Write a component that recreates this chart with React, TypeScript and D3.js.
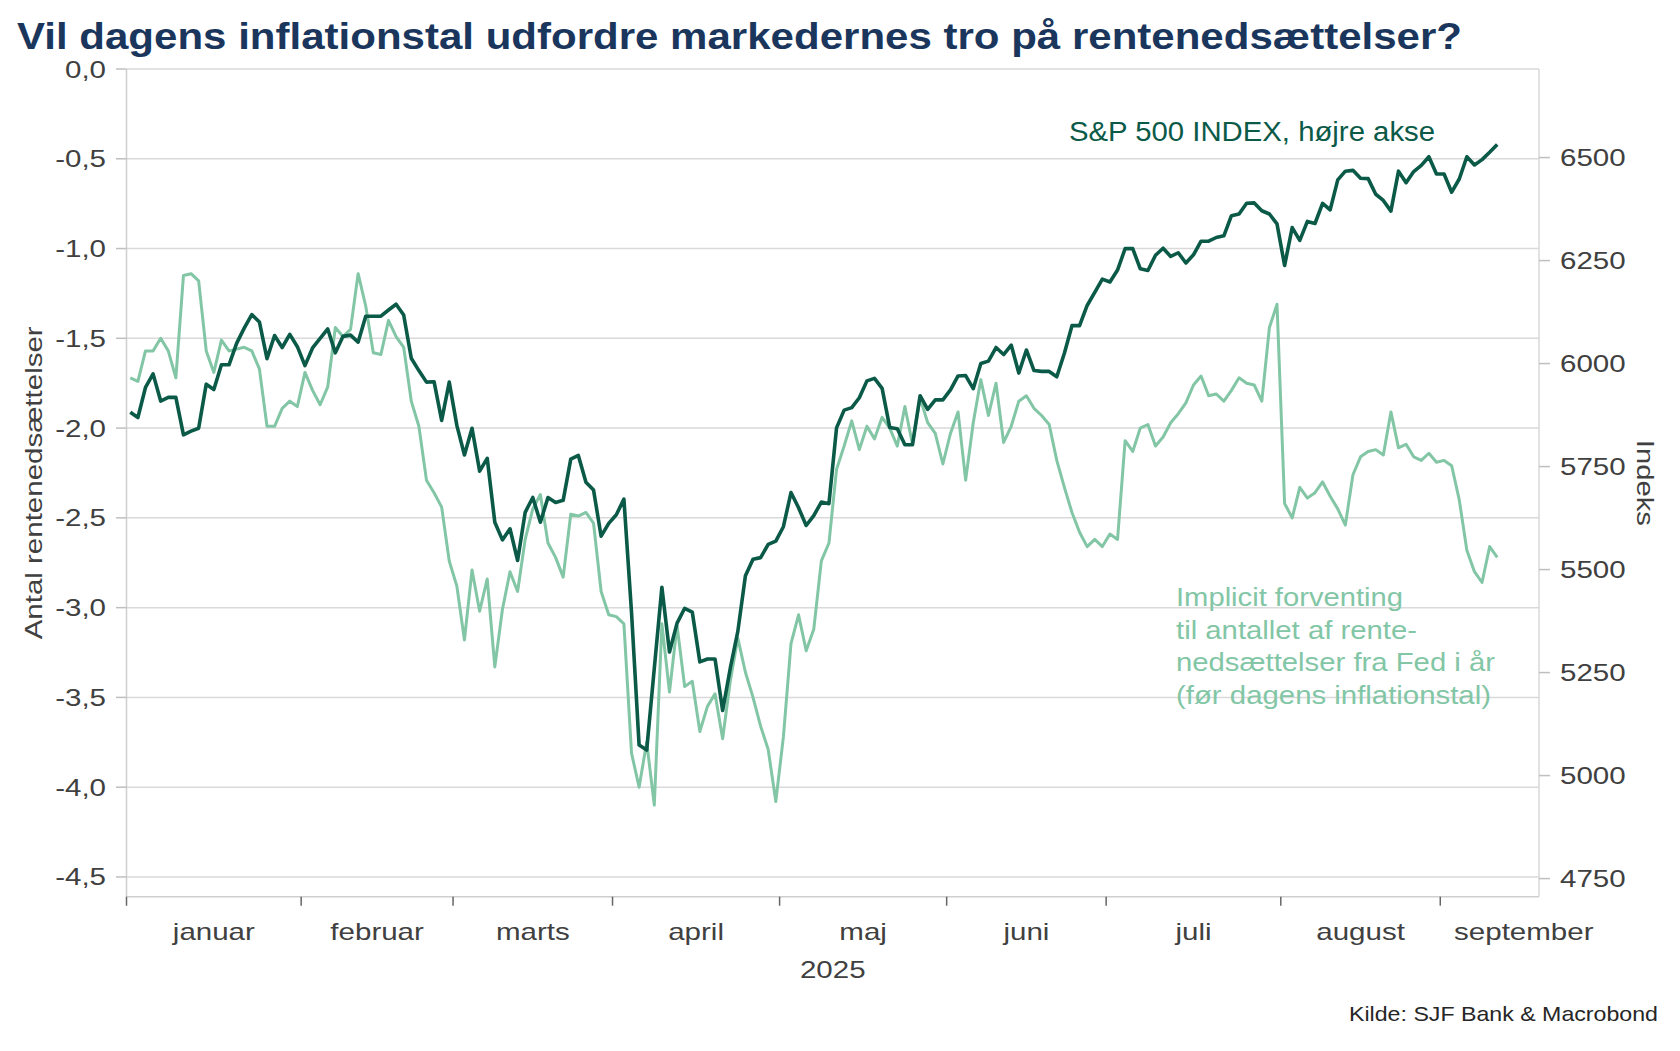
import React from 'react';
import * as d3 from 'd3';

// month labels on the x axis (weekday calendar, Macrobond style)
const months = ['januar', 'februar', 'marts', 'april', 'maj', 'juni', 'juli', 'august', 'september'];

// S&P 500, one value per weekday (holidays carry the previous close)
const spxJan = [5882, 5869, 5942, 5975, 5909, 5918, 5918, 5827, 5836, 5843, 5950, 5937, 5997, 5997, 6049, 6086, 6119, 6101, 6012, 6068, 6039, 6071, 6041];
const spxFeb = [5995, 6038, 6061, 6084, 6026, 6066, 6069, 6052, 6115, 6115, 6115, 6130, 6144, 6118, 6013, 5983, 5955, 5956, 5862, 5955];
const spxMar = [5850, 5778, 5843, 5739, 5770, 5615, 5572, 5599, 5522, 5639, 5675, 5615, 5675, 5663, 5668, 5768, 5777, 5712, 5693, 5581, 5612];
const spxApr = [5633, 5671, 5397, 5074, 5062, 5260, 5457, 5300, 5370, 5406, 5397, 5276, 5283, 5283, 5158, 5260, 5350, 5485, 5525, 5529, 5561, 5569];
const spxMay = [5604, 5687, 5650, 5607, 5631, 5664, 5660, 5844, 5887, 5893, 5917, 5958, 5964, 5940, 5845, 5842, 5803, 5803, 5922, 5889, 5912, 5912];
const spxJun = [5936, 5970, 5971, 5939, 6000, 6006, 6039, 6022, 6045, 5977, 6033, 5983, 5981, 5981, 5968, 6025, 6092, 6092, 6141, 6173, 6205];
const spxJul = [6198, 6227, 6279, 6279, 6230, 6226, 6263, 6280, 6260, 6269, 6244, 6264, 6297, 6297, 6306, 6310, 6359, 6363, 6389, 6390, 6371, 6363, 6339];
const spxAug = [6238, 6330, 6299, 6345, 6340, 6389, 6373, 6446, 6467, 6469, 6450, 6449, 6411, 6396, 6370, 6467, 6439, 6466, 6481, 6502, 6460];
const spxSep = [6460, 6416, 6448, 6502, 6482, 6495, 6513, 6532];

// implied number of Fed cuts this year (left axis), one value per weekday
const cutsJan = [-1.72, -1.74, -1.57, -1.57, -1.5, -1.57, -1.72, -1.15, -1.14, -1.18, -1.57, -1.69, -1.51, -1.57, -1.56, -1.55, -1.57, -1.67, -1.99, -1.99, -1.89, -1.85, -1.88];
const cutsFeb = [-1.69, -1.79, -1.87, -1.77, -1.44, -1.49, -1.45, -1.14, -1.32, -1.58, -1.59, -1.4, -1.49, -1.55, -1.85, -1.99, -2.29, -2.36, -2.44, -2.74];
const cutsMar = [-2.88, -3.18, -2.79, -3.02, -2.84, -3.33, -3.01, -2.8, -2.91, -2.62, -2.45, -2.37, -2.64, -2.72, -2.83, -2.48, -2.49, -2.47, -2.53, -2.91, -3.04];
const cutsApr = [-3.05, -3.09, -3.81, -4.0, -3.75, -4.1, -3.09, -3.47, -3.1, -3.44, -3.41, -3.69, -3.55, -3.48, -3.73, -3.41, -3.17, -3.36, -3.5, -3.66, -3.79, -4.08];
const cutsMay = [-3.72, -3.2, -3.04, -3.24, -3.12, -2.74, -2.64, -2.23, -2.1, -1.96, -2.12, -1.99, -2.06, -1.94, -2.0, -2.1, -1.88, -2.09, -1.83, -1.97, -2.03, -2.2];
const cutsJun = [-2.03, -1.91, -2.29, -1.97, -1.73, -1.93, -1.75, -2.08, -1.99, -1.85, -1.82, -1.89, -1.93, -1.98, -2.18, -2.33, -2.47, -2.58, -2.66, -2.62, -2.66];
const cutsJul = [-2.59, -2.62, -2.07, -2.13, -2.0, -1.98, -2.1, -2.05, -1.97, -1.92, -1.86, -1.76, -1.71, -1.82, -1.81, -1.85, -1.79, -1.72, -1.75, -1.76, -1.85, -1.44, -1.31];
const cutsAug = [-2.42, -2.5, -2.33, -2.39, -2.36, -2.3, -2.38, -2.45, -2.54, -2.26, -2.16, -2.13, -2.12, -2.15, -1.91, -2.11, -2.09, -2.16, -2.18, -2.14, -2.19];
const cutsSep = [-2.18, -2.21, -2.4, -2.68, -2.8, -2.86, -2.66, -2.72];

const leftTicks = [0, -0.5, -1, -1.5, -2, -2.5, -3, -3.5, -4, -4.5];
const rightTicks = [6500, 6250, 6000, 5750, 5500, 5250, 5000, 4750];

const spx = [...spxJan, ...spxFeb, ...spxMar, ...spxApr, ...spxMay, ...spxJun, ...spxJul, ...spxAug, ...spxSep];
const cuts = [...cutsJan, ...cutsFeb, ...cutsMar, ...cutsApr, ...cutsMay, ...cutsJun, ...cutsJul, ...cutsAug, ...cutsSep];

const FONT = '"Liberation Sans", Arial, sans-serif';
const DARK = '#0b5a48';
const LIGHT = '#82c6a6';
const GRID = '#d9d9d9';
const TXT = '#404040';

const W = 1680;
const H = 1051;
const plot = { left: 126.5, right: 1539, top: 69, bottom: 896.7 };

// weekdays of 2025 up to end of September
const calendar = d3.timeDay
  .range(new Date(2025, 0, 1), new Date(2025, 9, 1))
  .filter(d => d.getDay() !== 0 && d.getDay() !== 6);

const monthStart = months.map((_, i) => calendar.findIndex(d => d.getMonth() === i));
const monthEnd = monthStart.map((s, i) => (i < monthStart.length - 1 ? monthStart[i + 1] : calendar.length));

const x = d3.scaleLinear().domain([0, 186]).range([plot.left, plot.right]);
const yL = d3.scaleLinear().domain([-4.61, 0]).range([plot.bottom, plot.top]);
const yR = d3.scaleLinear().domain([4706, 6715]).range([plot.bottom, plot.top]);

const cutsLine = d3.line<number>().x((_, i) => x(i + 0.5)).y(d => yL(d));
const spxLine = d3.line<number>().x((_, i) => x(i + 0.5)).y(d => yR(d));

const fmtLeft = (v: number) => v.toFixed(1).replace('.', ',');

// tick labels are drawn a bit wider than plain Arial
const Lbl = ({ x, y, anchor, children }: any) => (
  <text
    transform={`translate(${x},${y}) scale(1.23,1)`}
    textAnchor={anchor}
    fontSize={24}
    fill={TXT}
  >
    {children}
  </text>
);

export default function App() {
  return (
    <>
      <style>{'body{margin:0}'}</style>
      <svg width={W} height={H} style={{ display: 'block', background: '#fff' }} fontFamily={FONT}>
        <text x={17} y={49} fontSize={37} fontWeight="bold" fill="#1b365d" textLength={1445} lengthAdjust="spacingAndGlyphs">
          Vil dagens inflationstal udfordre markedernes tro på rentenedsættelser?
        </text>

        {/* grid */}
        {leftTicks.map(t => (
          <line key={'g' + t} x1={plot.left} x2={plot.right} y1={yL(t)} y2={yL(t)} stroke={GRID} strokeWidth={1.5} />
        ))}
        <line x1={plot.left} x2={plot.left} y1={plot.top} y2={plot.bottom} stroke="#cfcfcf" strokeWidth={1.5} />
        <line x1={plot.right} x2={plot.right} y1={plot.top} y2={plot.bottom} stroke={GRID} strokeWidth={1.5} />
        <line x1={plot.left} x2={plot.right} y1={plot.bottom} y2={plot.bottom} stroke="#cfcfcf" strokeWidth={1.5} />

        {/* left axis */}
        {leftTicks.map(t => (
          <g key={'l' + t}>
            <line x1={plot.left - 10.5} x2={plot.left} y1={yL(t)} y2={yL(t)} stroke="#bfbfbf" strokeWidth={1.5} />
            <Lbl x={106} y={yL(t) + 8.5} anchor="end">{fmtLeft(t)}</Lbl>
          </g>
        ))}

        {/* right axis */}
        {rightTicks.map(t => (
          <g key={'r' + t}>
            <line x1={plot.right} x2={plot.right + 11} y1={yR(t)} y2={yR(t)} stroke="#bfbfbf" strokeWidth={1.5} />
            <Lbl x={1560} y={yR(t) + 8.5} anchor="start">{t}</Lbl>
          </g>
        ))}

        {/* x axis */}
        {monthStart.map((s, i) => (
          <g key={months[i]}>
            <line x1={x(s)} x2={x(s)} y1={plot.bottom} y2={plot.bottom + 9} stroke="#666" strokeWidth={1.5} />
            <Lbl x={x((s + monthEnd[i]) / 2)} y={940} anchor="middle">{months[i]}</Lbl>
          </g>
        ))}
        <Lbl x={(plot.left + plot.right) / 2} y={978} anchor="middle">2025</Lbl>

        {/* axis titles */}
        <text transform={`translate(42,${(plot.top + plot.bottom) / 2}) rotate(-90)`} textAnchor="middle" fontSize={24} fill={TXT} textLength={313} lengthAdjust="spacingAndGlyphs">
          Antal rentenedsættelser
        </text>
        <text transform={`translate(1637,${(plot.top + plot.bottom) / 2}) rotate(90)`} textAnchor="middle" fontSize={24} fill={TXT} textLength={86} lengthAdjust="spacingAndGlyphs">
          Indeks
        </text>

        {/* series */}
        <path d={cutsLine(cuts) ?? ''} fill="none" stroke={LIGHT} strokeWidth={3} strokeLinejoin="round" />
        <path d={spxLine(spx) ?? ''} fill="none" stroke={DARK} strokeWidth={3.6} strokeLinejoin="round" />

        {/* annotations */}
        <text x={1069} y={140.5} fontSize={27} fill={DARK} textLength={366} lengthAdjust="spacingAndGlyphs">
          S&amp;P 500 INDEX, højre akse
        </text>
        <g fontSize={26} fill={LIGHT}>
          <text x={1176} y={606} textLength={227} lengthAdjust="spacingAndGlyphs">Implicit forventing</text>
          <text x={1176} y={638.5} textLength={241} lengthAdjust="spacingAndGlyphs">til antallet af rente-</text>
          <text x={1176} y={671} textLength={319} lengthAdjust="spacingAndGlyphs">nedsættelser fra Fed i år</text>
          <text x={1176} y={703.5} textLength={315} lengthAdjust="spacingAndGlyphs">(før dagens inflationstal)</text>
        </g>

        <text x={1658} y={1021} textAnchor="end" fontSize={21} fill="#262626" textLength={309} lengthAdjust="spacingAndGlyphs">
          Kilde: SJF Bank &amp; Macrobond
        </text>
      </svg>
    </>
  );
}
